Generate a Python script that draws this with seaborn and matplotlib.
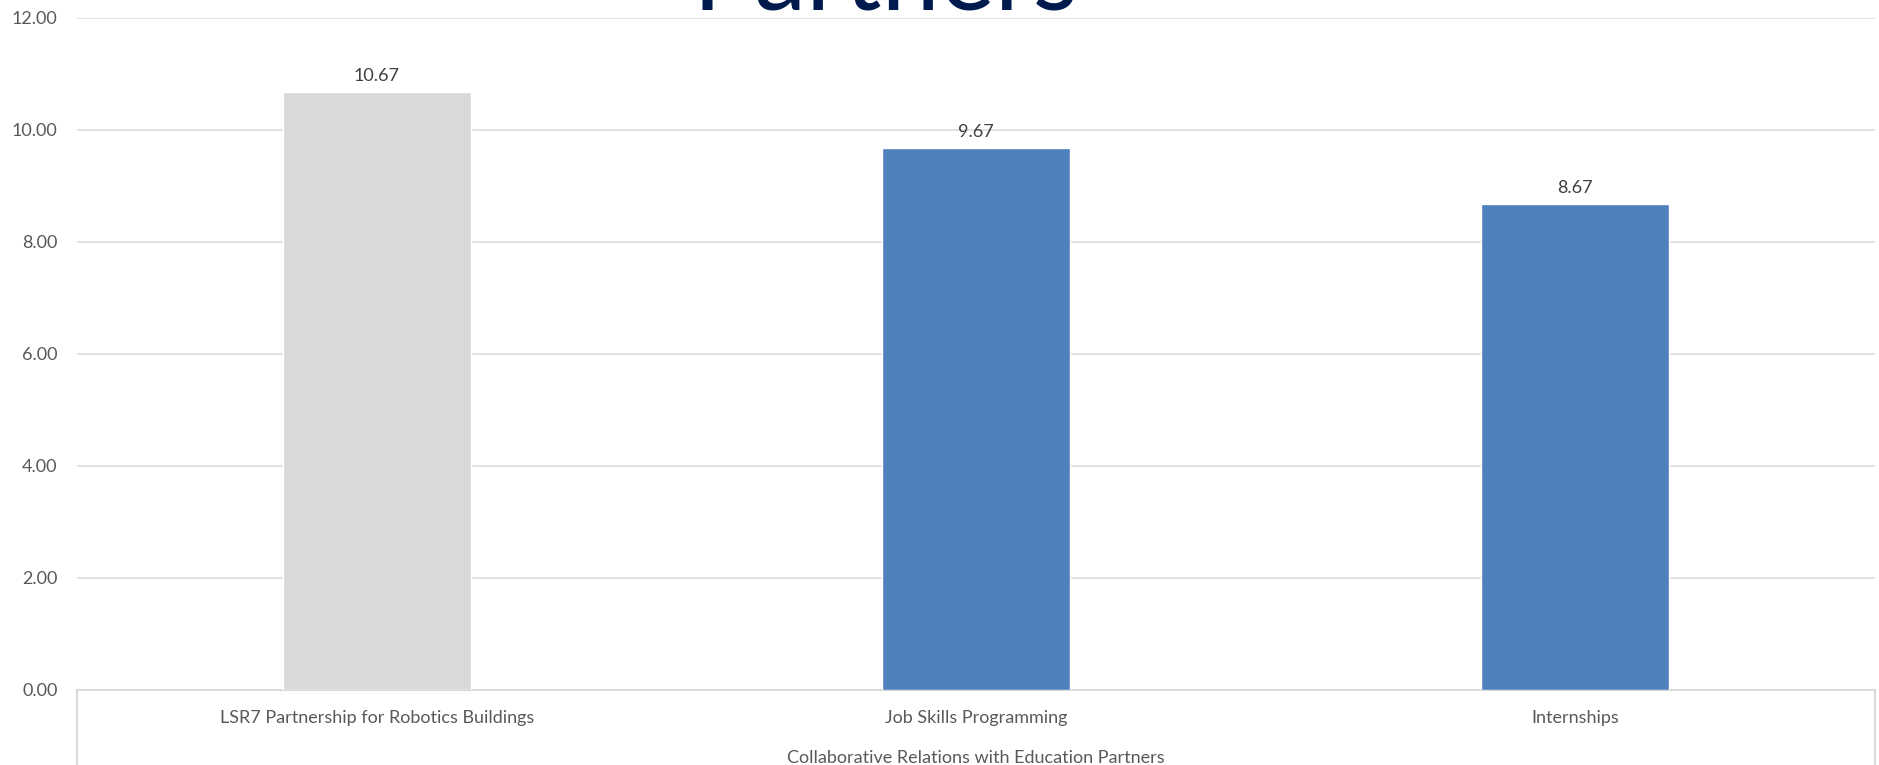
import matplotlib
matplotlib.use("Agg")
import matplotlib.pyplot as plt
import seaborn as sns
import pandas as pd
from matplotlib.lines import Line2D

categories = ["LSR7 Partnership for Robotics Buildings", "Job Skills Programming", "Internships"]
values = [10.67, 9.67, 8.67]
bar_colors = ["#D9D9D9", "#4F81BD", "#4F81BD"]
group_label = "Collaborative Relations with Education Partners"
title = "Partners"
yticks = [0, 2, 4, 6, 8, 10, 12]

sns.set_theme(style="white")
plt.rcParams["font.family"] = ["Lato", "DejaVu Sans"]

df = pd.DataFrame({"category": categories, "value": values})

W, H = 1879, 765
fig = plt.figure(figsize=(W / 100, H / 100), dpi=100)
ax = fig.add_axes([77 / W, 1 - 690 / H, 1798 / W, 672 / H])

sns.barplot(data=df, x="category", y="value", hue="category",
            palette=dict(zip(categories, bar_colors)), width=0.314,
            legend=False, ax=ax, saturation=1, zorder=3)

for c in ax.containers:
    ax.bar_label(c, fmt="%.2f", padding=6, fontsize=13, color="#404040")

ax.set_ylim(0, 12)
ax.set_xlim(-0.5, 2.5)
ax.set_yticks(yticks)
ax.set_yticklabels([f"{v:.2f}" for v in yticks])
ax.yaxis.grid(True, color="#D9D9D9", linewidth=1.1, zorder=0)
ax.set_axisbelow(True)
for s in ["top", "left", "right"]:
    ax.spines[s].set_visible(False)
ax.spines["bottom"].set_color("#D9D9D9")
ax.spines["bottom"].set_linewidth(1.5)
ax.tick_params(axis="y", length=0, pad=14, labelsize=13, labelcolor="#595959")
ax.tick_params(axis="x", length=0, pad=14.5, labelsize=13, labelcolor="#595959")
ax.set_ylabel("")
ax.set_xlabel(group_label, fontsize=13, color="#595959", labelpad=17)

# table-like box under the axis
for xa in (0.0, 1.0):
    ax.add_line(Line2D([xa, xa], [0, -0.2], transform=ax.transAxes,
                       color="#D9D9D9", linewidth=1.5, clip_on=False))

fig.text(885 / W, 1 - 10 / H, title, ha="center", va="baseline",
         fontsize=75, color="#001A4E")

fig.savefig("out.png", dpi=100, facecolor="white")
